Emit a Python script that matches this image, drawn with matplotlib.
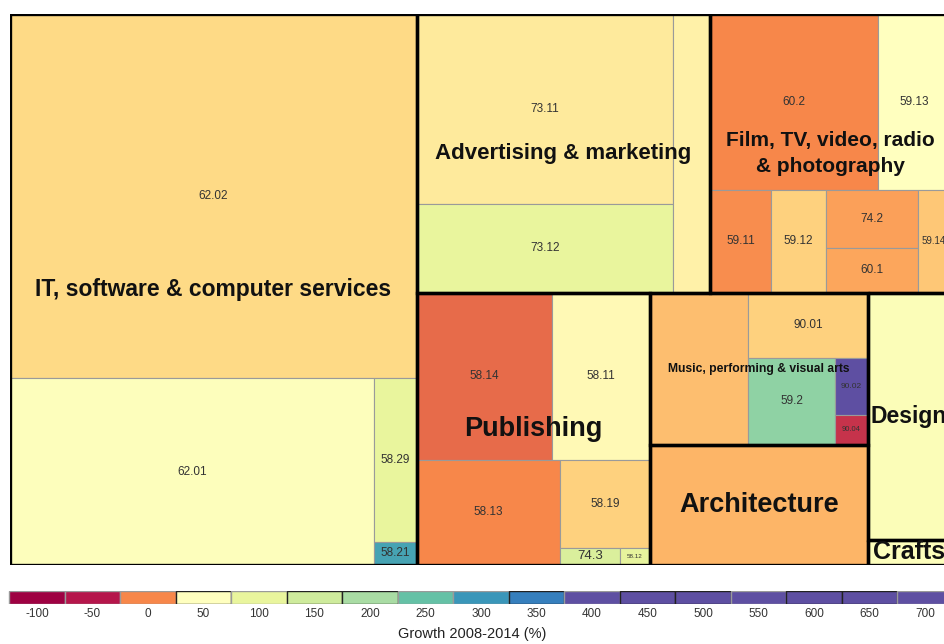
import matplotlib
matplotlib.use("Agg")
import matplotlib.pyplot as plt
from matplotlib.colors import LinearSegmentedColormap, Normalize
from matplotlib.patches import Rectangle

plt.rcParams['font.family'] = ['Liberation Sans', 'DejaVu Sans']

# leaf cells (SIC code), which sector they belong to, size and growth 2008-2014 (%)
codes = ['62.02', '62.01', '58.29', '58.21',
         '73.11', '73.12', '70.21',
         '60.2', '59.13', '59.11', '59.12', '74.2', '60.1', '59.14',
         '58.14', '58.11', '58.13', '58.19', '74.3', '58.12',
         '90.03', '90.01', '59.2', '90.02', '90.04',
         '71.11', '74.10', '32.12']
sectors = [0, 0, 0, 0,
           1, 1, 1,
           2, 2, 2, 2, 2, 2, 2,
           3, 3, 3, 3, 3, 3,
           4, 4, 4, 4, 4,
           5, 6, 7]
sizes = [14815, 6807, 705, 99,
         4864, 2278, 1032,
         2957, 1267, 628, 567, 534, 414, 330,
         2255, 1637, 1502, 792, 102, 51,
         1490, 780, 757, 188, 99,
         2616, 2025, 205]
growth = [35, 55, 100, 285,
          42, 100, 45,
          3, 52, 5, 33, 14, 16, 30,
          -10, 48, 1, 34, 130, 105,
          25, 34, 220, 460, -35,
          24, 62, 55]
hidden = ['70.21', '90.03', '71.11', '74.10', '32.12']

sector_names = ['IT, software & computer services', 'Advertising & marketing',
                'Film, TV, video, radio\n& photography', 'Publishing',
                'Music, performing & visual arts', 'Architecture', 'Design', 'Crafts']

# legend / colour scale
levels = [-100, -50, 0, 50, 100, 150, 200, 250, 300, 350, 400, 450, 500, 550, 600, 650, 700]
level_colors = ['#9e0142', '#b5164b', '#f7864a', '#ffffbf', '#e9f59d', '#cfeb9c', '#abdda4',
                '#66c2a5', '#3a97b9', '#3581be', '#5e4fa2', '#5e4fa2', '#5e4fa2', '#5e4fa2',
                '#5e4fa2', '#5e4fa2', '#5e4fa2']
outlined = [0, 0, 0, 1, 0, 1, 1, 0, 0, 1, 0, 1, 1, 0, 1, 1, 0]

# slice-and-dice structure of the treemap ('h' = side by side, 'v' = stacked)
tree = ('h', [
    ('v', ['62.02', ('h', ['62.01', ('v', ['58.29', '58.21'])])]),
    ('v', [
        ('h', [('h', [('v', ['73.11', '73.12']), '70.21']),
               ('v', [('h', ['60.2', '59.13']),
                      ('h', ['59.11', '59.12', ('v', ['74.2', '60.1']), '59.14'])])]),
        ('h', [('v', [('h', ['58.14', '58.11']),
                      ('h', ['58.13', ('v', ['58.19', ('h', ['74.3', '58.12'])])])]),
               ('v', [('h', ['90.03', ('v', ['90.01', ('h', ['59.2', ('v', ['90.02', '90.04'])])])]),
                      '71.11']),
               ('v', ['74.10', '32.12'])]),
    ]),
])

size_of = dict(zip(codes, sizes))


def total(node):
    if isinstance(node, str):
        return size_of[node]
    return sum(total(k) for k in node[1])


def place(node, x, y, w, h, out):
    if isinstance(node, str):
        out[node] = (x, y, w, h)
        return
    d, kids = node
    s = total(node)
    for k in kids:
        f = total(k) / s
        if d == 'h':
            place(k, x, y, w * f, h, out)
            x += w * f
        else:
            place(k, x, y, w, h * f, out)
            y += h * f


norm = Normalize(levels[0], levels[-1])
anchors = [(norm(v), c) for v, c in zip(levels, level_colors)]
anchors += [(norm(20), '#fdae61'), (norm(37), '#fee08b')]
anchors.sort()
cmap = LinearSegmentedColormap.from_list('growth', anchors)

rects = {}
place(tree, 0, 0, 1, 1, rects)

fig = plt.figure(figsize=(9.44, 6.44), dpi=100)
ax = fig.add_axes([10 / 944, 79 / 644, 940 / 944, 551 / 644])
ax.set_xlim(0, 1)
ax.set_ylim(1, 0)
ax.axis('off')

code_fs = {'90.02': 6, '90.04': 5.5, '58.12': 4.5, '59.14': 7, '74.3': 9.5}
for code, sec, g in zip(codes, sectors, growth):
    x, y, w, h = rects[code]
    ax.add_patch(Rectangle((x, y), w, h, facecolor=cmap(norm(g)),
                           edgecolor='#9a9a9a', lw=0.8))
    if code not in hidden:
        ax.text(x + w / 2, y + h / 2, code, ha='center', va='center',
                fontsize=code_fs.get(code, 8.5), color='#333333')

sector_fs = [16.5, 16, 15, 19.5, 8.7, 19.5, 16.5, 18]
for i, name in enumerate(sector_names):
    boxes = [rects[c] for c, s in zip(codes, sectors) if s == i]
    x0 = min(b[0] for b in boxes)
    y0 = min(b[1] for b in boxes)
    x1 = max(b[0] + b[2] for b in boxes)
    y1 = max(b[1] + b[3] for b in boxes)
    ax.add_patch(Rectangle((x0, y0), x1 - x0, y1 - y0, fill=False,
                           edgecolor='black', lw=2.4, zorder=5))
    ax.text((x0 + x1) / 2, (y0 + y1) / 2, name, ha='center', va='center',
            fontsize=sector_fs[i], fontweight='bold', color='#111111',
            linespacing=1.45, zorder=6)

# legend strip
cax = fig.add_axes([0, 40 / 644, 1, 13 / 644])
cax.bar(levels, 1, width=50, align='center',
        color=[cmap(norm(v)) for v in levels],
        edgecolor=['#222222' if o else '#9a9a9a' for o in outlined], lw=1.0)
cax.set_xlim(-133.3, 717.1)
cax.set_ylim(0, 1)
cax.set_yticks([])
cax.set_xticks(levels)
cax.set_xticklabels([str(v) for v in levels], fontsize=8.5, color='#333333')
cax.tick_params(axis='x', length=0, pad=3)
for s in cax.spines.values():
    s.set_visible(False)
cax.set_xlabel('Growth 2008-2014 (%)', fontsize=10.5, color='#222222', labelpad=5)

fig.savefig('out.png', dpi=100)
